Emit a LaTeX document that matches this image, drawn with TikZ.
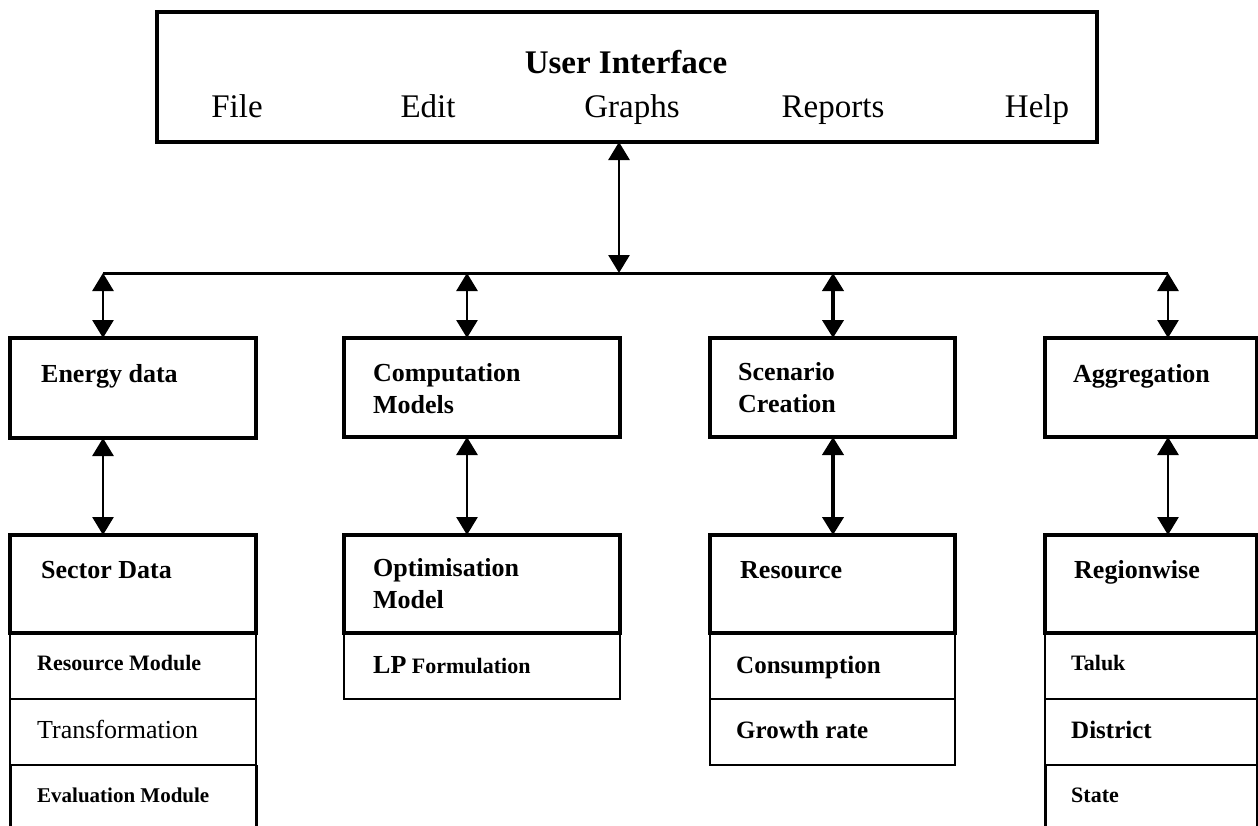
\documentclass[tikz,border=0pt]{standalone}
\usepackage{fontspec}
\setmainfont{Liberation Serif}
\usetikzlibrary{arrows.meta}
\begin{document}
\begin{tikzpicture}[x=1pt,y=-1pt,
  frame/.style={draw, line width=3.5pt, inner sep=0pt, outer sep=0pt, anchor=north west},
  cell/.style={draw, line width=2.5pt, inner sep=0pt, outer sep=0pt, anchor=north west},
  opencell/.style={inner sep=0pt, outer sep=0pt, anchor=north west},
  side/.style={line width=3pt},
  bus/.style={line width=3pt},
  dar/.style={{Triangle[length=18pt,width=21pt]}-{Triangle[length=18pt,width=21pt]}, line width=2.8pt},
  boldar/.style={dar, line width=4pt},
  title/.style={font=\fontsize{33}{38}\selectfont\bfseries, anchor=base, inner sep=0pt},
  menu/.style={font=\fontsize{33}{38}\selectfont, anchor=base, inner sep=0pt},
  head/.style={font=\fontsize{26}{32}\selectfont\bfseries, anchor=base west, inner sep=0pt, align=left},
  itemb/.style={font=\fontsize{22}{26}\selectfont\bfseries, anchor=base west, inner sep=0pt},
  itemr/.style={font=\fontsize{26}{30}\selectfont, anchor=base west, inner sep=0pt},
  itemm/.style={font=\fontsize{25}{30}\selectfont\bfseries, anchor=base west, inner sep=0pt}
]
\useasboundingbox (0,0) rectangle (1258,825);

% user interface with its menu bar
\node[frame, minimum width=940pt, minimum height=130pt] (ui) at (157,12) {};
\node[title] (uititle) at (626,73) {User Interface};
\node[menu] (mfile) at (237,117) {File};
\node[menu] (medit) at (428,117) {Edit};
\node[menu] (mgraphs) at (632,117) {Graphs};
\node[menu] (mreports) at (833,117) {Reports};
\node[menu] (mhelp) at (1037,117) {Help};

% first level modules
\node[frame, minimum width=246pt, minimum height=100pt] (energy) at (10,338) {};
\node[frame, minimum width=276pt, minimum height=99pt] (comp) at (344,338) {};
\node[frame, minimum width=245pt, minimum height=99pt] (scen) at (710,338) {};
\node[frame, minimum width=212pt, minimum height=99pt] (aggr) at (1045,338) {};

% multi-line labels sit on the baseline of their last line
\node[head] (tenergy) at (41,382) {Energy data};
\node[head] (tcomp) at (373,413) {Computation\\Models};
\node[head] (tscen) at (738,412) {Scenario\\Creation};
\node[head] (taggr) at (1073,382) {Aggregation};

% second level modules
\node[frame, minimum width=246pt, minimum height=98pt] (sector) at (10,535) {};
\node[frame, minimum width=276pt, minimum height=98pt] (optim) at (344,535) {};
\node[frame, minimum width=245pt, minimum height=98pt] (resrc) at (710,535) {};
\node[frame, minimum width=212pt, minimum height=98pt] (region) at (1045,535) {};

\node[head] (tsector) at (41,578) {Sector Data};
\node[head] (toptim) at (373,608) {Optimisation\\Model};
\node[head] (tresrc) at (740,578) {Resource};
\node[head] (tregion) at (1074,578) {Regionwise};

% sector data rows
\node[cell, minimum width=246pt, minimum height=66pt] (s1) at (10,633) {};
\node[cell, minimum width=246pt, minimum height=66pt] (s2) at (10,699) {};
\node[opencell, minimum width=246pt, minimum height=70pt] (s3) at (10,765) {};
\draw[side] (s3.north west) -- (s3.south west);
\draw[side] (s3.north east) -- (s3.south east);
\node[itemb] (ts1) at (37,670) {Resource Module};
\node[itemr] (ts2) at (37,738) {Transformation};
\node[itemb, font=\fontsize{21}{26}\selectfont\bfseries] (ts3) at (37,802) {Evaluation Module};

% optimisation rows
\node[cell, minimum width=276pt, minimum height=66pt] (o1) at (344,633) {};
\node[itemb] (to1) at (373,673) {{\fontsize{26}{30}\selectfont LP} Formulation};

% resource rows
\node[cell, minimum width=245pt, minimum height=66pt] (r1) at (710,633) {};
\node[cell, minimum width=245pt, minimum height=66pt] (r2) at (710,699) {};
\node[itemm] (tr1) at (736,673) {Consumption};
\node[itemm] (tr2) at (736,738) {Growth rate};

% regionwise rows
\node[cell, minimum width=212pt, minimum height=66pt] (g1) at (1045,633) {};
\node[cell, minimum width=212pt, minimum height=66pt] (g2) at (1045,699) {};
\node[opencell, minimum width=212pt, minimum height=70pt] (g3) at (1045,765) {};
\draw[side] (g3.north west) -- (g3.south west);
\draw[side] (g3.north east) -- (g3.south east);
\node[itemb] (tg1) at (1071,670) {Taluk};
\node[itemm] (tg2) at (1071,738) {District};
\node[itemb] (tg3) at (1071,802) {State};

% distribution bus
\coordinate (hub) at (619,273);
\coordinate (b1) at (103,273);
\coordinate (b2) at (467,273);
\coordinate (b3) at (833,273);
\coordinate (b4) at (1168,273);
\draw[bus] (b1) -- (b4);

\draw[dar] (hub |- ui.south) -- (hub);
\draw[dar] (b1) -- (b1 |- energy.north);
\draw[dar] (b2) -- (b2 |- comp.north);
\draw[boldar] (b3) -- (b3 |- scen.north);
\draw[dar] (b4) -- (b4 |- aggr.north);

\draw[dar] (b1 |- energy.south) -- (b1 |- sector.north);
\draw[dar] (b2 |- comp.south) -- (b2 |- optim.north);
\draw[boldar] (b3 |- scen.south) -- (b3 |- resrc.north);
\draw[dar] (b4 |- aggr.south) -- (b4 |- region.north);
\end{tikzpicture}
\end{document}
